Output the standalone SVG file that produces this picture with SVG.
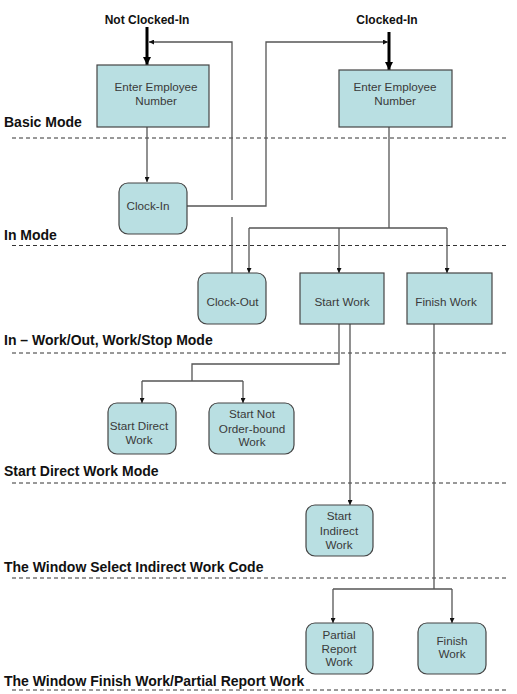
<svg xmlns="http://www.w3.org/2000/svg" width="517" height="694" viewBox="0 0 517 694">
<defs>
<style>
.node{fill:#b9dfe2;stroke:#454545;stroke-width:1.2}
.nt{font-family:"Liberation Sans",Arial,sans-serif;font-size:11.7px;fill:#3a3a3a;text-anchor:middle}
.lbl{font-family:"Liberation Sans",Arial,sans-serif;font-size:14px;font-weight:bold;fill:#111}
.top{font-family:"Liberation Sans",Arial,sans-serif;font-size:12px;font-weight:bold;fill:#111;text-anchor:middle}
.dash{stroke:#333;stroke-width:1;stroke-dasharray:4,3;fill:none}
.con{stroke:#555;stroke-width:1.3;fill:none}
.thick{stroke:#000;stroke-width:3;fill:none}
</style>
<marker id="ah" viewBox="0 0 10 10" refX="10" refY="5" markerWidth="5" markerHeight="5" markerUnits="userSpaceOnUse" orient="auto">
<path d="M0,0 L10,5 L0,10 z" fill="#111"/>
</marker>
<marker id="ahb" viewBox="0 0 10 10" refX="10" refY="5" markerWidth="8" markerHeight="8" markerUnits="userSpaceOnUse" orient="auto">
<path d="M0,0 L10,5 L0,10 z" fill="#000"/>
</marker>
</defs>
<rect width="517" height="694" fill="#fff"/>

<g id="mode-labels">
<text class="lbl" x="4" y="127">Basic Mode</text>
<line class="dash" x1="12" y1="138" x2="508" y2="138"/>
<text class="lbl" x="4" y="240">In Mode</text>
<line class="dash" x1="12" y1="245.5" x2="508" y2="245.5"/>
<text class="lbl" x="4" y="345">In – Work/Out, Work/Stop Mode</text>
<line class="dash" x1="12" y1="353" x2="508" y2="353"/>
<text class="lbl" x="4" y="475.5">Start Direct Work Mode</text>
<line class="dash" x1="12" y1="483" x2="508" y2="483"/>
<text class="lbl" x="4" y="572">The Window Select Indirect Work Code</text>
<line class="dash" x1="12" y1="578" x2="508" y2="578"/>
<text class="lbl" x="4" y="685.5">The Window Finish Work/Partial Report Work</text>
<line class="dash" x1="12" y1="690" x2="508" y2="690"/>
</g>

<g id="entry-labels">
<text class="top" x="147" y="24">Not Clocked-In</text>
<text class="top" x="387" y="24">Clocked-In</text>
</g>

<g id="connectors">
<line class="thick" x1="147" y1="27" x2="147" y2="65" marker-end="url(#ahb)"/>
<line class="thick" x1="389" y1="32" x2="389" y2="70" marker-end="url(#ahb)"/>
<line class="con" x1="147" y1="127" x2="147" y2="182" marker-end="url(#ah)"/>
<path class="con" d="M187,206 H266 V42 H388" marker-end="url(#ah)"/>
<path class="con" d="M232,273 V217"/>
<path class="con" d="M232,200 V42 H149" marker-end="url(#ah)"/>
<path class="con" d="M389,127 V228"/>
<path class="con" d="M249,228 H447"/>
<line class="con" x1="249" y1="228" x2="249" y2="273" marker-end="url(#ah)"/>
<line class="con" x1="339" y1="228" x2="339" y2="273" marker-end="url(#ah)"/>
<line class="con" x1="447" y1="228" x2="447" y2="273" marker-end="url(#ah)"/>
<path class="con" d="M339,324 V364 H192 V381"/>
<path class="con" d="M142,381 H243"/>
<line class="con" x1="142" y1="381" x2="142" y2="403" marker-end="url(#ah)"/>
<line class="con" x1="243" y1="381" x2="243" y2="403" marker-end="url(#ah)"/>
<line class="con" x1="350" y1="324" x2="350" y2="505" marker-end="url(#ah)"/>
<path class="con" d="M434,324 V589"/>
<path class="con" d="M333,589 H452"/>
<line class="con" x1="333" y1="589" x2="333" y2="623" marker-end="url(#ah)"/>
<line class="con" x1="452" y1="589" x2="452" y2="623" marker-end="url(#ah)"/>
</g>

<g id="enter-employee-1">
<rect class="node" x="97" y="65" width="112" height="62"/>
<text class="nt" x="156" y="91">Enter Employee</text>
<text class="nt" x="156" y="105">Number</text>
</g>
<g id="enter-employee-2">
<rect class="node" x="339" y="70" width="113" height="57"/>
<text class="nt" x="395" y="91">Enter Employee</text>
<text class="nt" x="395" y="105">Number</text>
</g>
<g id="clock-in">
<rect class="node" x="119" y="183" width="68" height="51" rx="9"/>
<text class="nt" x="148" y="210">Clock-In</text>
</g>
<g id="clock-out">
<rect class="node" x="198" y="273" width="68" height="51" rx="9"/>
<text class="nt" x="232.5" y="306">Clock-Out</text>
</g>
<g id="start-work">
<rect class="node" x="300" y="273" width="84" height="51"/>
<text class="nt" x="342" y="306">Start Work</text>
</g>
<g id="finish-work">
<rect class="node" x="407" y="273" width="85" height="51"/>
<text class="nt" x="446" y="306">Finish Work</text>
</g>
<g id="start-direct-work">
<rect class="node" x="108" y="403" width="68" height="51" rx="9"/>
<text class="nt" x="139" y="430">Start Direct</text>
<text class="nt" x="139" y="444">Work</text>
</g>
<g id="start-not-order-bound-work">
<rect class="node" x="209" y="403" width="85" height="51" rx="9"/>
<text class="nt" x="252" y="418">Start Not</text>
<text class="nt" x="252" y="433">Order-bound</text>
<text class="nt" x="252" y="446">Work</text>
</g>
<g id="start-indirect-work">
<rect class="node" x="306" y="505" width="67" height="51" rx="9"/>
<text class="nt" x="339" y="520">Start</text>
<text class="nt" x="339" y="535">Indirect</text>
<text class="nt" x="339" y="548.5">Work</text>
</g>
<g id="partial-report-work">
<rect class="node" x="306" y="623" width="67" height="51" rx="9"/>
<text class="nt" x="339" y="639">Partial</text>
<text class="nt" x="339" y="653">Report</text>
<text class="nt" x="339" y="666">Work</text>
</g>
<g id="finish-work-2">
<rect class="node" x="418" y="623" width="68" height="51" rx="9"/>
<text class="nt" x="452" y="645">Finish</text>
<text class="nt" x="452" y="658">Work</text>
</g>
</svg>
